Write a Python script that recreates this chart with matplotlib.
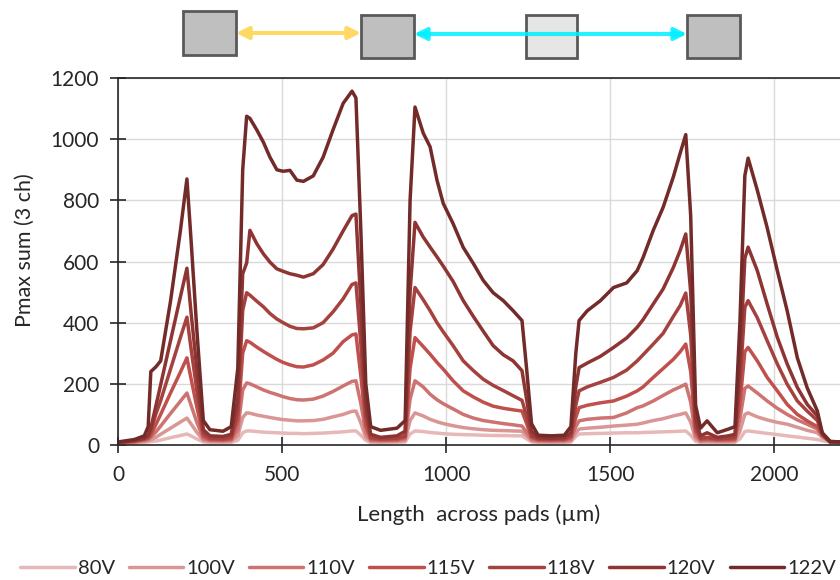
import matplotlib
matplotlib.use("Agg")
import matplotlib.pyplot as plt
from matplotlib.patches import Rectangle, FancyArrowPatch

plt.rcParams['font.family'] = ['Lato', 'DejaVu Sans']

# ---------------- data ----------------
x_um = [0, 50, 80, 92, 100, 115, 130, 160, 190, 210,
        222, 240, 260, 280, 320, 345, 365, 380, 392, 402,
        423, 443, 463, 484, 503, 524, 545, 565, 595, 625,
        655, 686, 713, 725, 740, 755, 770, 800, 850, 875,
        890, 905, 930, 951, 972, 991, 1021, 1052, 1083, 1113,
        1143, 1174, 1204, 1231, 1245, 1260, 1280, 1320, 1360, 1380,
        1395, 1405, 1430, 1470, 1510, 1550, 1582, 1600, 1631, 1661,
        1692, 1713, 1730, 1745, 1760, 1775, 1795, 1826, 1860, 1880,
        1895, 1910, 1920, 1948, 1978, 2009, 2039, 2070, 2100, 2131,
        2146, 2170, 2200]

v122 = [10, 18, 30, 60, 240, 255, 275, 470, 700, 870,
        680, 380, 80, 50, 45, 60, 250, 900, 1075, 1068,
        1030, 990, 941, 900, 895, 898, 866, 862, 880, 941,
        1030, 1117, 1157, 1135, 700, 200, 60, 48, 55, 80,
        800, 1105, 1020, 975, 866, 790, 724, 646, 593, 538,
        498, 472, 439, 407, 250, 70, 32, 30, 32, 60,
        300, 407, 439, 472, 515, 530, 570, 613, 702, 777,
        876, 954, 1015, 750, 130, 55, 79, 40, 52, 60,
        400, 880, 938, 833, 711, 570, 439, 285, 187, 111,
        40, 12, 10]

v120 = [8, 15, 22, 32, 55, 126, 197, 341, 484, 578,
        440, 250, 50, 30, 28, 35, 150, 560, 595, 702,
        658, 625, 598, 576, 568, 560, 555, 549, 560, 590,
        640, 700, 750, 755, 460, 130, 35, 25, 30, 45,
        500, 728, 680, 647, 615, 585, 535, 472, 420, 372,
        325, 295, 275, 243, 150, 45, 24, 22, 24, 40,
        190, 253, 268, 290, 319, 350, 385, 410, 461, 510,
        580, 636, 690, 500, 85, 30, 40, 25, 30, 35,
        270, 610, 647, 570, 461, 352, 265, 188, 133, 95,
        38, 10, 10]

v118 = [8, 14, 20, 28, 45, 100, 145, 248, 351, 418,
        320, 180, 38, 22, 20, 25, 110, 440, 498, 490,
        470, 452, 430, 412, 400, 388, 381, 380, 383, 400,
        435, 478, 525, 530, 330, 95, 25, 20, 22, 30,
        370, 515, 475, 439, 400, 370, 325, 275, 243, 215,
        195, 178, 161, 146, 95, 30, 20, 19, 20, 30,
        130, 177, 190, 205, 221, 245, 275, 295, 330, 365,
        420, 456, 497, 360, 60, 22, 25, 20, 22, 25,
        200, 450, 472, 416, 341, 265, 199, 144, 111, 80,
        35, 10, 10]

v115 = [7, 12, 18, 22, 32, 66, 100, 170, 238, 285,
        220, 125, 28, 18, 17, 20, 80, 300, 341, 336,
        320, 306, 293, 280, 270, 262, 256, 255, 262, 278,
        300, 338, 360, 363, 225, 65, 20, 17, 18, 25,
        250, 351, 322, 297, 270, 248, 210, 177, 157, 140,
        127, 120, 115, 111, 70, 25, 17, 16, 17, 24,
        90, 122, 130, 138, 144, 160, 177, 190, 221, 250,
        280, 305, 330, 240, 45, 18, 20, 17, 18, 20,
        135, 305, 319, 275, 221, 177, 133, 100, 79, 60,
        32, 10, 10]

v110 = [6, 10, 15, 18, 25, 42, 62, 103, 143, 170,
        132, 75, 20, 15, 14, 16, 50, 180, 203, 200,
        190, 180, 172, 165, 158, 152, 148, 147, 150, 160,
        175, 193, 208, 210, 135, 42, 15, 14, 15, 20,
        150, 210, 190, 166, 148, 135, 118, 100, 88, 80,
        75, 70, 66, 62, 42, 18, 14, 13, 14, 18,
        60, 79, 84, 88, 90, 105, 122, 128, 144, 162,
        180, 190, 199, 140, 30, 14, 15, 14, 14, 16,
        85, 185, 193, 170, 144, 120, 100, 82, 68, 52,
        30, 10, 10]

v100 = [5, 8, 12, 14, 17, 25, 35, 55, 75, 88,
        70, 42, 15, 12, 11, 12, 30, 90, 105, 104,
        98, 94, 90, 86, 83, 81, 79, 79, 80, 84,
        92, 100, 110, 111, 72, 25, 12, 11, 12, 14,
        80, 105, 95, 84, 76, 70, 63, 57, 53, 50,
        48, 47, 46, 45, 30, 14, 11, 10, 11, 13,
        40, 52, 55, 58, 62, 65, 68, 72, 80, 86,
        95, 100, 105, 75, 20, 11, 12, 11, 11, 12,
        45, 100, 105, 92, 82, 74, 68, 58, 48, 40,
        25, 10, 10]

v80 = [4, 6, 8, 10, 11, 13, 16, 24, 31, 36,
       30, 20, 10, 8, 8, 9, 15, 40, 46, 46,
       44, 42, 41, 40, 39, 38, 38, 37, 38, 39,
       41, 43, 46, 46, 32, 15, 8, 8, 9, 10,
       36, 46, 44, 41, 39, 37, 35, 34, 33, 32,
       31, 31, 30, 30, 20, 10, 8, 8, 8, 10,
       28, 36, 37, 38, 39, 40, 40, 41, 42, 43,
       44, 45, 46, 32, 12, 8, 8, 8, 8, 9,
       20, 44, 46, 42, 38, 34, 30, 26, 22, 18,
       14, 10, 10]

series_labels = ['80V', '100V', '110V', '115V', '118V', '120V', '122V']
series_values = [v80, v100, v110, v115, v118, v120, v122]
series_colors = ['#E6B9B8', '#D99694', '#CD7371', '#C0504D', '#A5423F', '#8E3533', '#722B29']

x_ticks = [0, 500, 1000, 1500, 2000]
y_ticks = [0, 200, 400, 600, 800, 1000, 1200]

# ---------------- figure ----------------
W, H = 840, 580
fig = plt.figure(figsize=(W / 100, H / 100), dpi=100)
ax = fig.add_axes([118 / W, 1 - 445 / H, 1 - 118 / W, (445 - 78) / H])

handles = []
for lab, vals, col in zip(series_labels, series_values, series_colors):
    h, = ax.plot(x_um, vals, color=col, lw=2.5, label=lab,
                 solid_joinstyle='round', solid_capstyle='round')
    handles.append(h)

ax.set_xlim(0, 2200)
ax.set_ylim(0, 1200)
ax.set_xticks(x_ticks)
ax.set_yticks(y_ticks)
ax.grid(True, color='#D9D9D9', lw=1.0)
ax.set_axisbelow(True)
for s in ['left', 'bottom', 'top']:
    ax.spines[s].set_color('#262626')
    ax.spines[s].set_linewidth(1.2)
ax.spines['right'].set_visible(False)
ax.tick_params(axis='both', direction='inout', length=11, width=1.2,
               color='#262626', labelsize=15, labelcolor='#262626', pad=9)
ax.tick_params(axis='y', pad=8)

ax.set_xlabel('Length  across pads (µm)', fontsize=16, color='#262626', labelpad=14)
ax.set_ylabel('Pmax sum (3 ch)', fontsize=15.5, color='#262626', labelpad=16)
ax.yaxis.set_label_coords(-0.115, 0.53)

leg = fig.legend(handles=handles, labels=series_labels, loc='center',
                 bbox_to_anchor=(428 / W, 1 - 568 / H), ncol=7, frameon=False,
                 fontsize=14.5, handlelength=2.7, handletextpad=0.15,
                 columnspacing=0.7, labelcolor='#262626', borderpad=0.1,
                 borderaxespad=0.1)

# ---------------- pad schematic above the plot ----------------
deco = fig.add_axes([0, 0, 1, 1], zorder=5)
deco.set_xlim(0, W)
deco.set_ylim(H, 0)
deco.axis('off')

pad_x = [(183, 236), (361, 414), (526, 577), (687, 740)]
pad_y = [(11, 55), (15, 58), (15, 58), (15, 58)]
pad_fill = ['#BFBFBF', '#BFBFBF', '#E6E6E6', '#BFBFBF']
for (x0, x1), (y0, y1), fc in zip(pad_x, pad_y, pad_fill):
    deco.add_patch(Rectangle((x0, y0), x1 - x0, y1 - y0, facecolor=fc,
                             edgecolor='#595959', lw=2.0, zorder=2))

deco.add_patch(FancyArrowPatch((236, 33), (361, 33), arrowstyle='<|-|>',
                               mutation_scale=18, color='#FFD966', lw=3,
                               shrinkA=0, shrinkB=0, zorder=3))
deco.add_patch(FancyArrowPatch((414, 34), (687, 34), arrowstyle='<|-|>',
                               mutation_scale=18, color='#00F0FF', lw=3,
                               shrinkA=0, shrinkB=0, alpha=0.85, zorder=3))

fig.savefig('out.png', dpi=100)
